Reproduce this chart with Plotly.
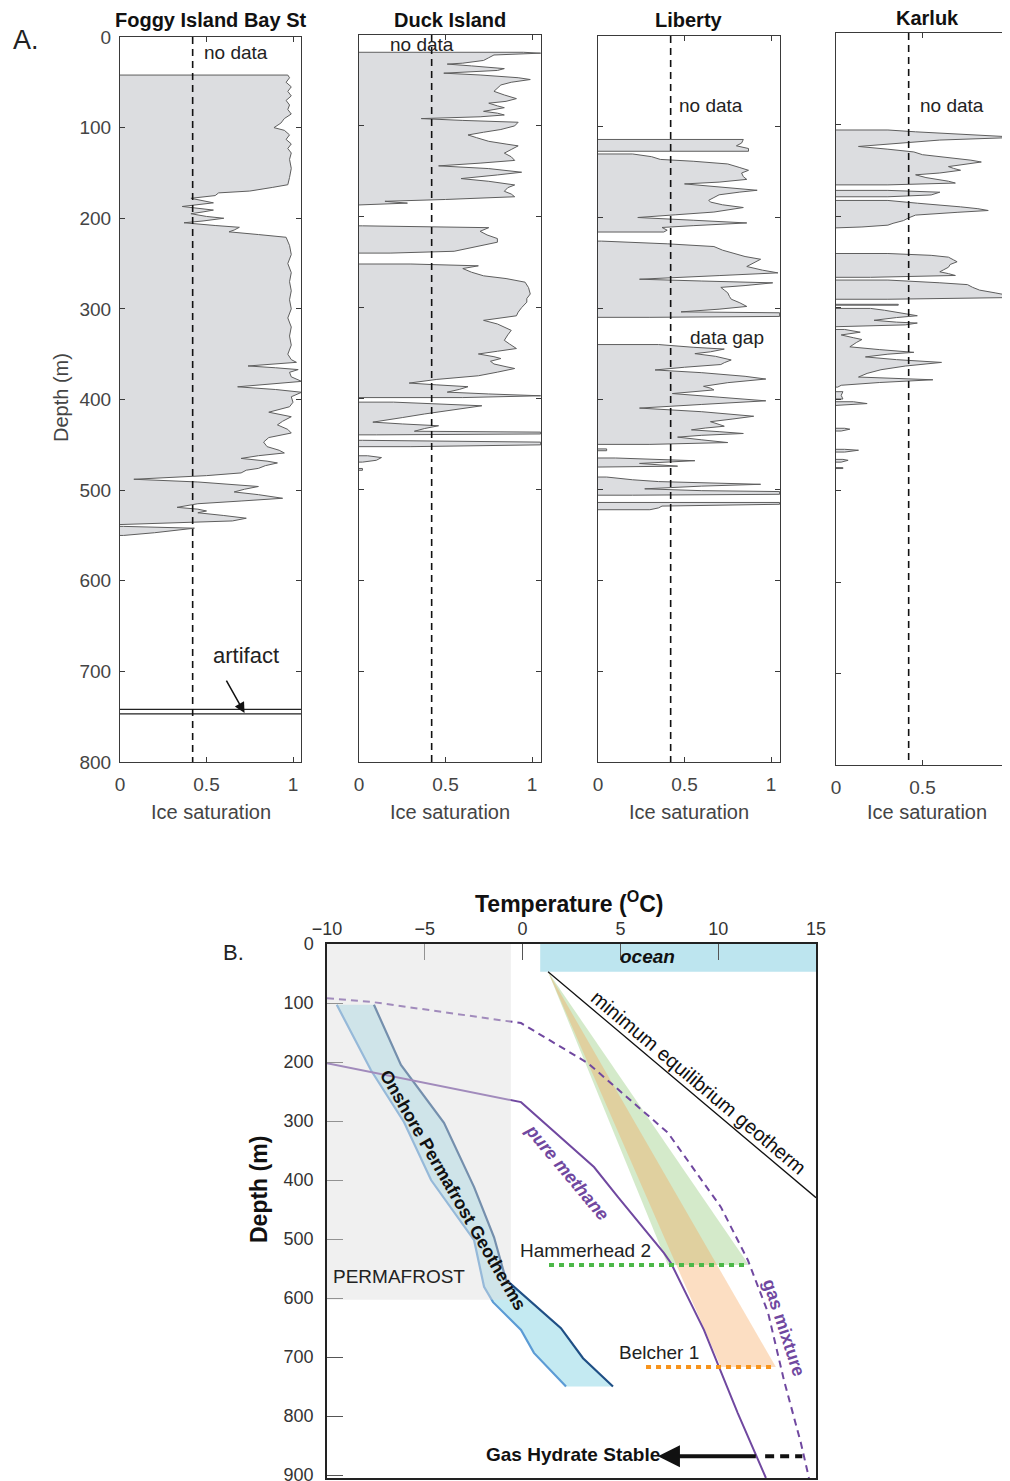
import plotly.graph_objects as go

W, H = 1010, 1490      # figure size (page body adds an 8px margin)
OX, OY = 7, 8          # offset of the figure inside the page
N = None

# ---------------- Panel A data (depth m, ice saturation) ; None separates segments
foggy_depth = [42, 45, 50, 55, 60, 65, 70, 75, 80, 85, 90, 95, 100, 103, 108, 113, 118, 123, 128, 135, 145, 155, 163,
               166, 170, 172, 175, 178, 181, 183, 187, 189, 191, 193, 195, 198, 200, 203, 205, 208, 210, 213, 215, 218, 221,
               230, 240, 250, 260, 270, 280, 290, 300, 310, 320, 330, 340, 350, 356, 359, 361, 363, 365, 367, 370, 375,
               380, 383, 386, 389, 392, 397, 403, 408, 414, 419, 424, 428, 433, 437, 442, 447, 452, 456, 459, 462, 465,
               468, 470, 473, 476, 478, 481, 484, 488, 491, 494, 496, 499, 502, 505, 509, 512, 515, 519, 521, 523, 525,
               528, 531, 534, 536, 538, N, 540, 542, 547, 550]
foggy_ice = [0.97, 0.98, 0.96, 0.99, 0.97, 0.99, 0.96, 0.98, 0.97, 0.99, 0.95, 0.93, 0.89, 0.95, 0.98, 0.96, 0.99, 0.97,
             0.99, 0.98, 0.99, 0.98, 0.97, 0.88, 0.75, 0.57, 0.55, 0.41, 0.50, 0.54, 0.36, 0.45, 0.54, 0.48, 0.41, 0.50,
             0.60, 0.48, 0.37, 0.55, 0.69, 0.66, 0.63, 0.80, 0.96, 0.98, 0.99, 0.97, 0.99, 0.98, 0.99, 0.98, 0.99, 0.97,
             0.99, 0.98, 0.99, 0.97, 0.99, 1.02, 0.85, 0.74, 0.90, 1.03, 0.98, 0.99, 1.05, 0.85, 0.68, 0.90, 1.05, 0.99,
             1.00, 0.98, 0.86, 0.99, 0.94, 0.91, 0.97, 0.99, 0.86, 0.83, 0.85, 0.92, 0.95, 0.80, 0.70, 0.85, 0.91, 0.84,
             0.80, 0.73, 0.70, 0.50, 0.08, 0.45, 0.70, 0.80, 0.72, 0.66, 0.80, 0.94, 0.70, 0.45, 0.33, 0.45, 0.50, 0.45,
             0.60, 0.73, 0.65, 0.35, 0.05, N, 0.02, 0.43, 0.20, 0.02]
foggy_artifact = [742, 747]

duck_depth = [19, 20, 22, 25, 28, 31, 32, 34, 37, 39, 41, 42, 44, 47, 49, 52, 55, 58, 62, 66, 70, 73, 75, 78, 80, 82,
              84, 86, 88, 90, 92, 94, 96, 100, 104, 107, 110, 113, 117, 120, 122, 126, 130, 134, 138, 141, 144, 147,
              151, 154, 158, 161, 165, 168, 172, 175, 178, 181, 183, 185, 187, N,
              210, 212, 216, 220, 224, 228, 231, 235, 238, 240, N,
              252, 254, 257, 261, 265, 268, 272, 278, 285, 290, 294, 300, 305, 309, 312, 314, 318, 325, 330, 336, 340,
              345, 348, 351, 354, 356, 359, 362, 365, 367, 371, 375, 379, 383, 385, 387, 390, 393, 395, 397, 399, N,
              404, 408, 412, 417, 421, 426, 428, 430, 433, 436, 437, 439, 440, N,
              446, 448, 451, 453, N, 463, 465, 468, 470, N, 477, 479]
duck_ice = [0.95, 1.05, 0.78, 0.75, 0.72, 0.60, 0.51, 0.65, 0.84, 0.80, 0.55, 0.49, 0.70, 0.92, 0.99, 0.88, 0.82, 0.80,
            0.78, 0.84, 0.91, 0.85, 0.75, 0.80, 0.84, 0.78, 0.72, 0.80, 0.84, 0.70, 0.36, 0.60, 0.92, 0.90, 0.82, 0.72,
            0.63, 0.68, 0.75, 0.85, 0.92, 0.88, 0.84, 0.88, 0.90, 0.70, 0.46, 0.75, 0.94, 0.80, 0.59, 0.75, 0.90, 0.86,
            0.84, 0.88, 0.90, 0.50, 0.15, 0.28, 0.02, N,
            0.02, 0.75, 0.70, 0.74, 0.80, 0.80, 0.72, 0.61, 0.55, 0.18, N,
            0.30, 0.69, 0.60, 0.65, 0.72, 0.85, 0.96, 0.98, 0.99, 0.97, 0.97, 0.94, 0.92, 0.91, 0.80, 0.72, 0.80, 0.88,
            0.86, 0.84, 0.87, 0.91, 0.80, 0.69, 0.78, 0.82, 0.76, 0.78, 0.85, 0.90, 0.80, 0.69, 0.45, 0.29, 0.45, 0.63,
            0.58, 0.51, 0.75, 1.05, 0.60, N,
            0.20, 0.71, 0.55, 0.38, 0.25, 0.08, 0.25, 0.46, 0.38, 0.32, 1.05, 1.05, 0.10, N,
            0.02, 1.05, 1.05, 0.30, N, 0.05, 0.13, 0.10, 0.02, N, 0.02, 0.02]

lib_depth = [114, 118, 121, 124, 127, N,
             130, 133, 136, 138, 141, 145, 148, 151, 155, 158, 161, 163, 166, 170, 172, 175, 178, 181, 183, 186, 189,
             192, 194, 197, 200, 203, 206, 209, 211, 214, 216, N,
             226, 229, 232, 236, 239, 243, 246, 250, 254, 258, 261, 264, 268, 270, 272, 275, 277, 280, 283, 287, 290,
             294, 298, 301, 304, 305, 309, 310, N,
             340, 343, 345, 348, 350, 353, 357, 360, 362, 365, 368, 371, 375, 378, 382, 386, 388, 390, 392, 394, 398,
             402, 406, 410, 414, 419, 422, 425, 428, 430, 432, 434, 436, 438, 440, 442, 445, 448, 450, N,
             455, 457, N, 465, 468, 471, 474, 475, N,
             486, 489, 491, 494, 496, 499, 501, 502, 505, 506, N, 514, 516, 518, 520, 522]
lib_ice = [0.84, 0.83, 0.80, 0.87, 0.87, N,
           0.20, 0.31, 0.36, 0.55, 0.75, 0.82, 0.87, 0.83, 0.84, 0.86, 0.70, 0.50, 0.70, 0.92, 0.82, 0.70, 0.67, 0.64,
           0.65, 0.72, 0.84, 0.75, 0.67, 0.45, 0.23, 0.55, 0.86, 0.55, 0.37, 0.40, 0.38, N,
           0.02, 0.40, 0.67, 0.72, 0.77, 0.85, 0.94, 0.90, 0.86, 0.95, 1.04, 0.70, 0.24, 0.60, 1.01, 0.85, 0.71, 0.73,
           0.75, 0.76, 0.77, 0.82, 0.86, 0.70, 0.48, 1.05, 1.05, 0.30, N,
           0.35, 0.55, 0.73, 0.65, 0.56, 0.68, 0.77, 0.73, 0.71, 0.50, 0.33, 0.60, 0.85, 0.97, 0.75, 0.61, 0.65, 0.67,
           0.55, 0.43, 0.70, 0.97, 0.60, 0.24, 0.60, 0.90, 0.78, 0.65, 0.70, 0.73, 0.62, 0.54, 0.70, 0.84, 0.60, 0.46,
           0.60, 0.75, 0.30, N,
           0.05, 0.05, N, 0.10, 0.56, 0.24, 0.46, 0.10, N,
           0.05, 0.20, 0.35, 0.94, 0.60, 0.27, 0.60, 1.05, 1.05, 0.20, N, 1.05, 1.05, 0.37, 0.35, 0.30]

karluk_depth = [106, 108, 111, 114, 117, 121, 124, 127, 130, 133, 136, 139, 141, 143, 146, 148, 150, 153, 155, 158,
                160, 162, 164, 166, N, 172, 174, 177, 179, N,
                183, 186, 188, 190, 192, 194, 196, 199, 202, 205, 208, 210, 212, 213, N,
                241, 243, 245, 248, 250, 253, 256, 259, 261, 263, 265, 267, N,
                270, 273, 275, 278, 281, 284, 287, 289, 291, N, 296.5, 297.5, N,
                301, 303, 305, 307, 309, 311, 314, 316, 317, 319, 321, N,
                324, 327, 330, 333, 335, 338, 343, 346, 349, 351, 354, 357, 360, 364, 368, 372, 376, 379, 382, 385, 387, N,
                392, 396, 400, N, 403, 405, 407, N, 432, 433, 435, N, 455, 456, 458, N, 466, 467, 469, N, 475, 476]
karluk_ice = [0.30, 0.46, 0.75, 1.06, 0.60, 0.30, 0.13, 0.30, 0.45, 0.50, 0.65, 0.78, 0.84, 0.75, 0.65, 0.68, 0.72,
              0.60, 0.46, 0.52, 0.59, 0.65, 0.69, 0.30, N, 0.30, 0.60, 0.55, 0.30, N,
              0.30, 0.47, 0.62, 0.72, 0.82, 0.88, 0.70, 0.46, 0.42, 0.39, 0.33, 0.30, 0.15, 0.02, N,
              0.30, 0.55, 0.65, 0.68, 0.70, 0.66, 0.65, 0.62, 0.60, 0.65, 0.69, 0.20, N,
              0.30, 0.60, 0.76, 0.79, 0.83, 0.92, 1.00, 1.06, 0.30, N, 0.36, 0.36, N,
              0.20, 0.28, 0.35, 0.42, 0.47, 0.35, 0.22, 0.35, 0.47, 0.40, 0.10, N,
              0.05, 0.14, 0.03, 0.10, 0.15, 0.12, 0.08, 0.25, 0.45, 0.30, 0.17, 0.35, 0.61, 0.40, 0.26, 0.18, 0.13, 0.56,
              0.25, 0.03, 0.01, N,
              0.04, 0.03, 0.04, N, 0.10, 0.18, 0.05, N, 0.05, 0.08, 0.03, N, 0.05, 0.13, 0.05, N, 0.04, 0.07, 0.03, N,
              0.04, 0.04]

wells = ["Foggy Island Bay St", "Duck Island", "Liberty", "Karluk"]
threshold = 0.42
ice_ticks = [0, 0.5, 1]
depth_ticks = [0, 100, 200, 300, 400, 500, 600, 700, 800]

# ---------------- Panel B data (temperature C, depth m)
geo_left_T = [-9.5, -7.75, -6.06, -4.68, -2.48, -1.97, -1.51, -0.08, 0.58, 2.22]
geo_left_d = [103, 214, 302, 400, 502, 581, 607, 654, 693, 750]
geo_right_T = [-7.6, -6.22, -4.02, -2.48, -1.46, -0.85, 1.96, 3.09, 4.62]
geo_right_d = [103, 205, 303, 412, 497, 569, 651, 702, 750]
methane_T = [-10, -0.08, 3.65, 4.88, 7.23, 7.59, 9.27, 11.0, 12.44]
methane_d = [202, 268, 378, 429, 524, 541, 654, 795, 905]
mixture_T = [-10, -7.75, -0.08, 3.34, 7.43, 10.14, 11.52, 12.55, 13.36, 14.23, 14.64]
mixture_d = [92, 98, 134, 202, 320, 446, 536, 625, 739, 846, 905]
mineq_T = [1.3, 15]
mineq_d = [47, 430]
hammer_T = [1.3, 7.43, 11.57]
hammer_d = [47, 544, 544]
belcher_T = [1.3, 10.14, 12.95]
belcher_d = [47, 717, 717]
hammer_line_T = [1.35, 11.57]
belcher_line_T = [6.31, 12.95]
permafrost_T = [-10, -0.6]
permafrost_d = [0, 603]
ocean_T = [0.9, 15]
ocean_d = [0, 47]
stable_arrow_T = [12.0, 6.92]
stable_dash_T = [12.4, 14.3]
stable_d = 868
temp_ticks = [-10, -5, 0, 5, 10, 15]
depthB_ticks = [0, 100, 200, 300, 400, 500, 600, 700, 800, 900]

FONT = "Liberation Sans, Arial, sans-serif"
NARROW = "Liberation Sans Narrow, Arial Narrow, Liberation Sans, Arial, sans-serif"
AX = "#3a3a3a"


def fx(px):
    return (px - OX) / W


def fy(py):
    return 1 - (py - OY) / H


def split(depths, vals):
    segs, cd, cv = [], [], []
    for d, v in zip(depths, vals):
        if d is None:
            if cd:
                segs.append((cd, cv))
            cd, cv = [], []
        else:
            cd.append(d)
            cv.append(v)
    if cd:
        segs.append((cd, cv))
    return segs


def ptext(px, py, text, size, color="#222", family=FONT, angle=0):
    return dict(x=fx(px), y=fy(py), xref="paper", yref="paper", text=text, showarrow=False,
                xanchor="center", yanchor="middle", textangle=angle,
                font=dict(family=family, size=size, color=color))


def dtext(x, y, text, size, color="#222", family=FONT, angle=0):
    return dict(x=x, y=y, xref="x5", yref="y5", text=text, showarrow=False, xanchor="center",
                yanchor="middle", textangle=angle, font=dict(family=family, size=size, color=color))


fig = go.Figure()

boxes = [(119, 300, 37, 762), (358, 540, 35, 762), (597, 779, 36, 762), (835, 1017, 33, 765)]
data = [(foggy_depth, foggy_ice), (duck_depth, duck_ice), (lib_depth, lib_ice), (karluk_depth, karluk_ice)]
scale = 173.0

for i, ((l, r, t, b), (dd, vv)) in enumerate(zip(boxes, data)):
    n = i + 1
    xa = "x" if n == 1 else f"x{n}"
    ya = "y" if n == 1 else f"y{n}"
    for segd, segv in split(dd, vv):
        fig.add_trace(go.Scatter(x=[0] + segv + [0], y=[segd[0]] + segd + [segd[-1]], mode="lines",
                                 fill="toself", fillcolor="#dcdde0", line=dict(color="#5e5e5e", width=1),
                                 xaxis=xa, yaxis=ya, showlegend=False, hoverinfo="skip"))
    if n == 1:
        for a in foggy_artifact:
            fig.add_trace(go.Scatter(x=[0, 1.05], y=[a, a], mode="lines", line=dict(color="#222", width=1.2),
                                     xaxis=xa, yaxis=ya, showlegend=False, hoverinfo="skip"))
    fig.add_trace(go.Scatter(x=[threshold, threshold], y=[0, 800], mode="lines",
                             line=dict(color="#111", width=1.6, dash="7px,5px"),
                             xaxis=xa, yaxis=ya, showlegend=False, hoverinfo="skip"))
    xkey = "xaxis" if n == 1 else f"xaxis{n}"
    ykey = "yaxis" if n == 1 else f"yaxis{n}"
    right = min(fx(r), 1.0)
    fig.update_layout(**{
        xkey: dict(domain=[fx(l), right], range=[0, (r - l) / scale], anchor=ya, tickvals=ice_ticks,
                   ticktext=["0", "0.5", "1"], ticks="inside", ticklen=5, tickcolor=AX, showline=True,
                   linecolor=AX, linewidth=1, mirror="ticks", showgrid=False, zeroline=False,
                   tickfont=dict(family=FONT, size=19, color="#444"), ticklabelstandoff=5),
        ykey: dict(domain=[fy(b), fy(t)], range=[800, 0], anchor=xa, tickvals=depth_ticks, ticks="inside",
                   ticklen=5, tickcolor=AX, showline=True, linecolor=AX, linewidth=1, mirror="ticks",
                   showgrid=False, zeroline=False, showticklabels=(n == 1),
                   tickfont=dict(family=FONT, size=19, color="#444"), ticklabelstandoff=4),
    })

# ---------------- Panel B traces
XB, YB = "x5", "y5"
fig.add_trace(go.Scatter(x=hammer_T + [hammer_T[0]], y=hammer_d + [hammer_d[0]], fill="toself",
                         fillcolor="rgba(120,190,90,0.32)", line=dict(width=0), mode="lines",
                         xaxis=XB, yaxis=YB, showlegend=False, hoverinfo="skip"))
fig.add_trace(go.Scatter(x=belcher_T + [belcher_T[0]], y=belcher_d + [belcher_d[0]], fill="toself",
                         fillcolor="rgba(245,160,80,0.35)", line=dict(width=0), mode="lines",
                         xaxis=XB, yaxis=YB, showlegend=False, hoverinfo="skip"))
fig.add_trace(go.Scatter(x=geo_left_T + geo_right_T[::-1], y=geo_left_d + geo_right_d[::-1], fill="toself",
                         fillcolor="#c4eaf2", line=dict(width=0), mode="lines",
                         xaxis=XB, yaxis=YB, showlegend=False, hoverinfo="skip"))
fig.add_trace(go.Scatter(x=geo_left_T, y=geo_left_d, mode="lines", line=dict(color="#5b9bd5", width=2.2),
                         xaxis=XB, yaxis=YB, showlegend=False, hoverinfo="skip"))
fig.add_trace(go.Scatter(x=geo_right_T, y=geo_right_d, mode="lines", line=dict(color="#1f4f85", width=2.2),
                         xaxis=XB, yaxis=YB, showlegend=False, hoverinfo="skip"))
fig.add_trace(go.Scatter(x=methane_T, y=methane_d, mode="lines", line=dict(color="#7048a0", width=2),
                         xaxis=XB, yaxis=YB, showlegend=False, hoverinfo="skip"))
fig.add_trace(go.Scatter(x=mixture_T, y=mixture_d, mode="lines",
                         line=dict(color="#7048a0", width=2, dash="7px,5px"),
                         xaxis=XB, yaxis=YB, showlegend=False, hoverinfo="skip"))
fig.add_trace(go.Scatter(x=mineq_T, y=mineq_d, mode="lines", line=dict(color="#111", width=1.3),
                         xaxis=XB, yaxis=YB, showlegend=False, hoverinfo="skip"))
fig.add_trace(go.Scatter(x=hammer_line_T, y=[hammer_d[1]] * 2, mode="lines",
                         line=dict(color="#4cb848", width=4, dash="5px,5px"),
                         xaxis=XB, yaxis=YB, showlegend=False, hoverinfo="skip"))
fig.add_trace(go.Scatter(x=belcher_line_T, y=[belcher_d[1]] * 2, mode="lines",
                         line=dict(color="#f7941d", width=4, dash="5px,5px"),
                         xaxis=XB, yaxis=YB, showlegend=False, hoverinfo="skip"))
fig.add_trace(go.Scatter(x=stable_dash_T, y=[stable_d] * 2, mode="lines",
                         line=dict(color="#111", width=4, dash="9px,6px"),
                         xaxis=XB, yaxis=YB, showlegend=False, hoverinfo="skip"))

fig.update_layout(
    xaxis5=dict(domain=[fx(326), fx(815)], range=[temp_ticks[0], temp_ticks[-1]], anchor=YB, side="top",
                tickvals=temp_ticks, ticks="inside", ticklen=16, tickcolor="#555", showline=True,
                linecolor="#222", linewidth=1.5, mirror=True, showgrid=False, zeroline=False,
                tickfont=dict(family=NARROW, size=18, color="#333"), ticklabelstandoff=0),
    yaxis5=dict(domain=[fy(1478), fy(944)], range=[905, 0], anchor=XB, tickvals=depthB_ticks, ticks="inside",
                ticklen=16, tickcolor="#555", showline=True, linecolor="#222", linewidth=1.5, mirror=True,
                showgrid=False, zeroline=False, tickfont=dict(family=NARROW, size=18, color="#333"),
                ticklabelstandoff=8),
)

shapes = [
    dict(type="rect", xref=XB, yref=YB, x0=ocean_T[0], x1=ocean_T[1], y0=ocean_d[0], y1=ocean_d[1],
         fillcolor="#bde5ef", line=dict(width=0), layer="below"),
    dict(type="rect", xref=XB, yref=YB, x0=permafrost_T[0], x1=permafrost_T[1], y0=permafrost_d[0],
         y1=permafrost_d[1], fillcolor="#dedede", opacity=0.45, line=dict(width=0), layer="above"),
]

ann = []
centers = [(119 + 300) / 2, (358 + 540) / 2, (597 + 779) / 2, (835 + 1017) / 2]
title_y = [20, 20, 20, 18]
for name, cx, ty in zip(wells, centers, title_y):
    ann.append(ptext(cx, ty, f"<b>{name}</b>", 20, "#111"))
    ann.append(ptext(cx, 812, "Ice saturation", 20, "#444"))
ann += [
    ptext(25, 40, "A.", 27, "#222"),
    ptext(60, 398, "Depth (m)", 20, "#444", angle=-90),
    ptext(235, 52, "no data", 19),
    ptext(421, 44, "no data", 19),
    ptext(710, 105, "no data", 19),
    ptext(951, 105, "no data", 19),
    ptext(726, 337, "data gap", 19),
    ptext(245, 655, "artifact", 22),
    dict(x=0.72, y=foggy_artifact[1] - 1, xref="x", yref="y", ax=-19, ay=-34, axref="pixel",
         ayref="pixel", text="", showarrow=True, arrowhead=2, arrowsize=1.4, arrowwidth=1.5, arrowcolor="#111"),
]
ann += [
    ptext(232, 952, "B.", 22),
    ptext(568, 902, "<b>Temperature (<sup>O</sup>C)</b>", 23, "#111"),
    ptext(258, 1190, "<b>Depth (m)</b>", 23, "#111", angle=-90),
    dtext(6.41, 22, "<b><i>ocean</i></b>", 19, "#111"),
    dtext(-6.32, 564, "PERMAFROST", 19, family=NARROW),
    dtext(3.24, 519, "Hammerhead 2", 19, family=NARROW),
    dtext(6.97, 692, "Belcher 1", 19, family=NARROW),
    dtext(-3.56, 417, "<b>Onshore Permafrost Geotherms</b>", 18, "#111", family=NARROW, angle=60),
    dtext(2.27, 386, "<b><i>pure methane</i></b>", 18, "#7048a0", family=NARROW, angle=50),
    dtext(13.36, 651, "<b>gas mixture</b>", 18, "#7048a0", family=NARROW, angle=72),
    dtext(8.97, 234, "minimum equilibrium geotherm", 20, "#111", angle=40),
    dtext(2.58, stable_d - 2, "<b>Gas Hydrate Stable</b>", 19, "#111", family=NARROW),
    dict(x=stable_arrow_T[1], y=stable_d, ax=stable_arrow_T[0], ay=stable_d, xref=XB, yref=YB, axref=XB,
         ayref=YB, text="", showarrow=True, arrowhead=2, arrowsize=1.1, arrowwidth=4, arrowcolor="#111"),
]

fig.update_layout(width=W, height=H, margin=dict(l=0, r=0, t=0, b=0, autoexpand=False),
                  paper_bgcolor="white", plot_bgcolor="white", showlegend=False, shapes=shapes,
                  annotations=ann, font=dict(family=FONT))
fig.write_html("out.html")
